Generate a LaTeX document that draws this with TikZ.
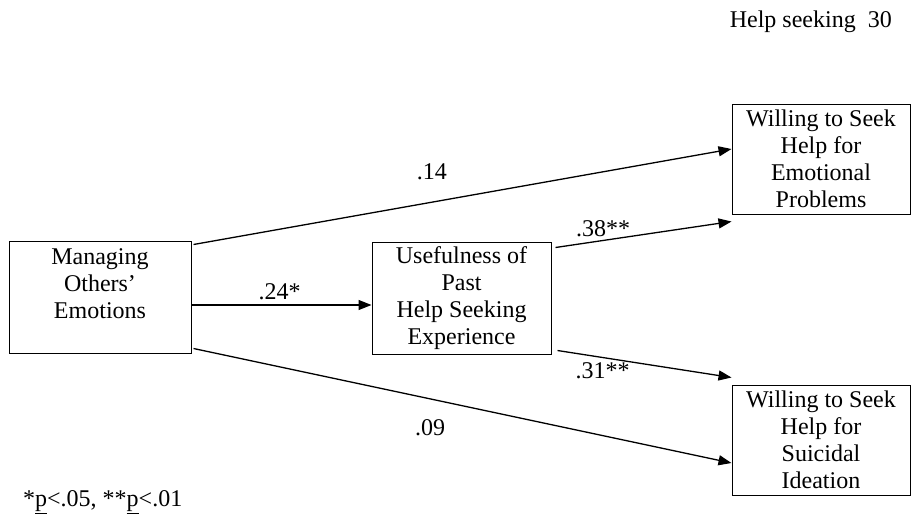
\documentclass[tikz,border=0pt]{standalone}
\usepackage{fontspec}
\setmainfont{Liberation Serif}
\usetikzlibrary{arrows.meta}

\tikzset{
  box/.style={draw, line width=1pt, inner sep=0pt, align=center,
              minimum width=180pt, minimum height=110pt,
              font=\fontsize{24}{27}\selectfont},
  link/.style={line width=1.3pt, -{Triangle[length=13pt,width=10pt]}},
  lbl/.style={font=\fontsize{24}{27}\selectfont, inner sep=1pt}
}

\begin{document}
\begin{tikzpicture}[x=1pt, y=-1pt]
\useasboundingbox (0,0) rectangle (913,523);

% Header and note
\node[lbl, anchor=base east] (head) at (893,27) {Help seeking~~30};
\node[lbl, anchor=west] (note) at (22,502) {*\underline{p}<.05, **\underline{p}<.01};

% Boxes
\node[box, minimum width=182pt, minimum height=112pt] (manage) at (100,297)
  {Managing\\Others'\\Emotions\\~};
\node[box, minimum width=179pt, minimum height=112pt] (use) at (461.5,298)
  {Usefulness of\\Past\\Help Seeking\\Experience};
\node[box, minimum width=178pt, minimum height=110pt] (emo) at (821,159)
  {Willing to Seek\\Help for\\Emotional\\Problems};
\node[box, minimum width=178pt, minimum height=110pt] (sui) at (821,440)
  {Willing to Seek\\Help for\\Suicidal\\Ideation};

% Paths
\draw[link] ([yshift=-8pt]manage.east) -- ([yshift=-7pt]use.west)
  node[lbl, pos=0.49, yshift=13pt] (l24) {.24*};
\draw[link] ([xshift=2pt,yshift=-4pt]manage.north east) -- ([yshift=10pt]emo.west)
  node[lbl, pos=0.443, yshift=30pt] (l14) {.14};
\draw[link] ([xshift=2pt,yshift=5pt]manage.south east) -- ([yshift=-23pt]sui.west)
  node[lbl, pos=0.44, yshift=-29pt] (l09) {.09};
\draw[link] ([xshift=4pt,yshift=-6pt]use.north east) -- ([yshift=-7pt]emo.south west)
  node[lbl, pos=0.27, yshift=12pt] (l38) {.38**};
\draw[link] ([xshift=6pt,yshift=4pt]use.south east) -- ([yshift=7pt]sui.north west)
  node[lbl, pos=0.26, yshift=-13pt] (l31) {.31**};

\end{tikzpicture}
\end{document}
